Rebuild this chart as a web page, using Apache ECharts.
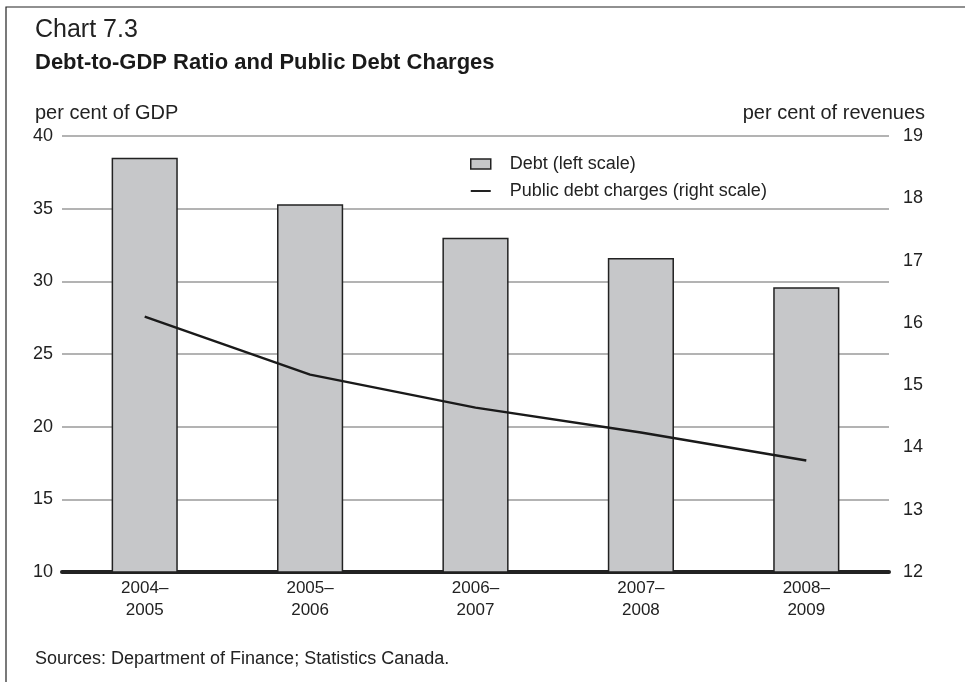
<!DOCTYPE html>
<html>
<head>
<meta charset="utf-8">
<script src="https://cdn.jsdelivr.net/npm/echarts@6/dist/echarts.min.js"></script>
<style>
html,body{margin:0;padding:0;background:#fff;}
#chart{width:965px;height:682px;}
</style>
</head>
<body>
<div id="chart"></div>
<script>
const categories = ['2004–\n2005', '2005–\n2006', '2006–\n2007', '2007–\n2008', '2008–\n2009'];
const debtValues = [38.5, 35.3, 33.0, 31.6, 29.6];
const chargeValues = [16.1, 15.17, 14.64, 14.24, 13.79];
const leftTicks = [10, 15, 20, 25, 30, 35, 40];
const rightTicks = [12, 13, 14, 15, 16, 17, 18, 19];

const FONT = '"Liberation Sans", Arial, Helvetica, sans-serif';
const chart = echarts.init(document.getElementById('chart'));
chart.setOption({
  animation: false,
  backgroundColor: '#fff',
  textStyle: { fontFamily: FONT },
  graphic: [
    { type: 'polyline', shape: { points: [[6, 682], [6, 7], [965, 7]] }, style: { stroke: '#222', lineWidth: 1.2, fill: null } },
    { type: 'text', left: 35, top: 18, style: { text: 'Chart 7.3', font: '25px ' + FONT, fill: '#222' } },
    { type: 'text', left: 35, top: 52, style: { text: 'Debt-to-GDP Ratio and Public Debt Charges', font: 'bold 22px ' + FONT, fill: '#1a1a1a' } },
    { type: 'text', left: 35, top: 103, style: { text: 'per cent of GDP', font: '20px ' + FONT, fill: '#222' } },
    { type: 'text', right: 40, top: 103, style: { text: 'per cent of revenues', font: '20px ' + FONT, fill: '#222' } },
    { type: 'text', left: 35, top: 650, style: { text: 'Sources: Department of Finance; Statistics Canada.', font: '18px ' + FONT, fill: '#222' } }
  ],
  legend: {
    orient: 'vertical',
    left: 465,
    top: 150,
    itemWidth: 20,
    itemHeight: 10,
    itemGap: 9,
    textStyle: { fontFamily: FONT, fontSize: 18, color: '#222', padding: [0, 0, 0, 14] },
    data: [
      { name: 'Debt (left scale)', icon: 'rect', itemStyle: { color: '#c6c7c9', borderColor: '#222', borderWidth: 1.5 } },
      { name: 'Public debt charges (right scale)', icon: 'path://M0,0 L20,0 L20,2 L0,2 Z', itemStyle: { color: '#222' } }
    ]
  },
  grid: { left: 62, right: 76, top: 136, bottom: 110, containLabel: false },
  xAxis: {
    type: 'category',
    data: categories,
    axisLine: { show: true, lineStyle: { color: '#222', width: 4 } },
    axisTick: { show: false },
    axisLabel: { fontFamily: '"Liberation Sans Narrow", ' + FONT, fontSize: 17, color: '#222', lineHeight: 22, margin: 5 }
  },
  yAxis: [
    {
      type: 'value', min: 10, max: 40, interval: 5,
      axisLine: { show: false }, axisTick: { show: false },
      axisLabel: { fontSize: 18, color: '#222', margin: 9 },
      splitLine: { show: true, lineStyle: { color: '#9a9a9a', width: 1.5 } }
    },
    {
      type: 'value', min: 12, max: 19, interval: 1, position: 'right',
      axisLine: { show: false }, axisTick: { show: false },
      axisLabel: { fontSize: 18, color: '#222', margin: 14 },
      splitLine: { show: false }
    }
  ],
  series: [
    {
      name: 'Debt (left scale)', type: 'bar', data: debtValues, barWidth: '40%', yAxisIndex: 0,
      itemStyle: { color: '#c6c7c9', borderColor: '#222', borderWidth: 1.5 },
      z: 2
    },
    {
      name: 'Public debt charges (right scale)', type: 'line', data: chargeValues, yAxisIndex: 1,
      symbol: 'none', lineStyle: { color: '#1a1a1a', width: 2.4 }, itemStyle: { color: '#1a1a1a' },
      z: 3
    }
  ]
});
</script>
</body>
</html>
